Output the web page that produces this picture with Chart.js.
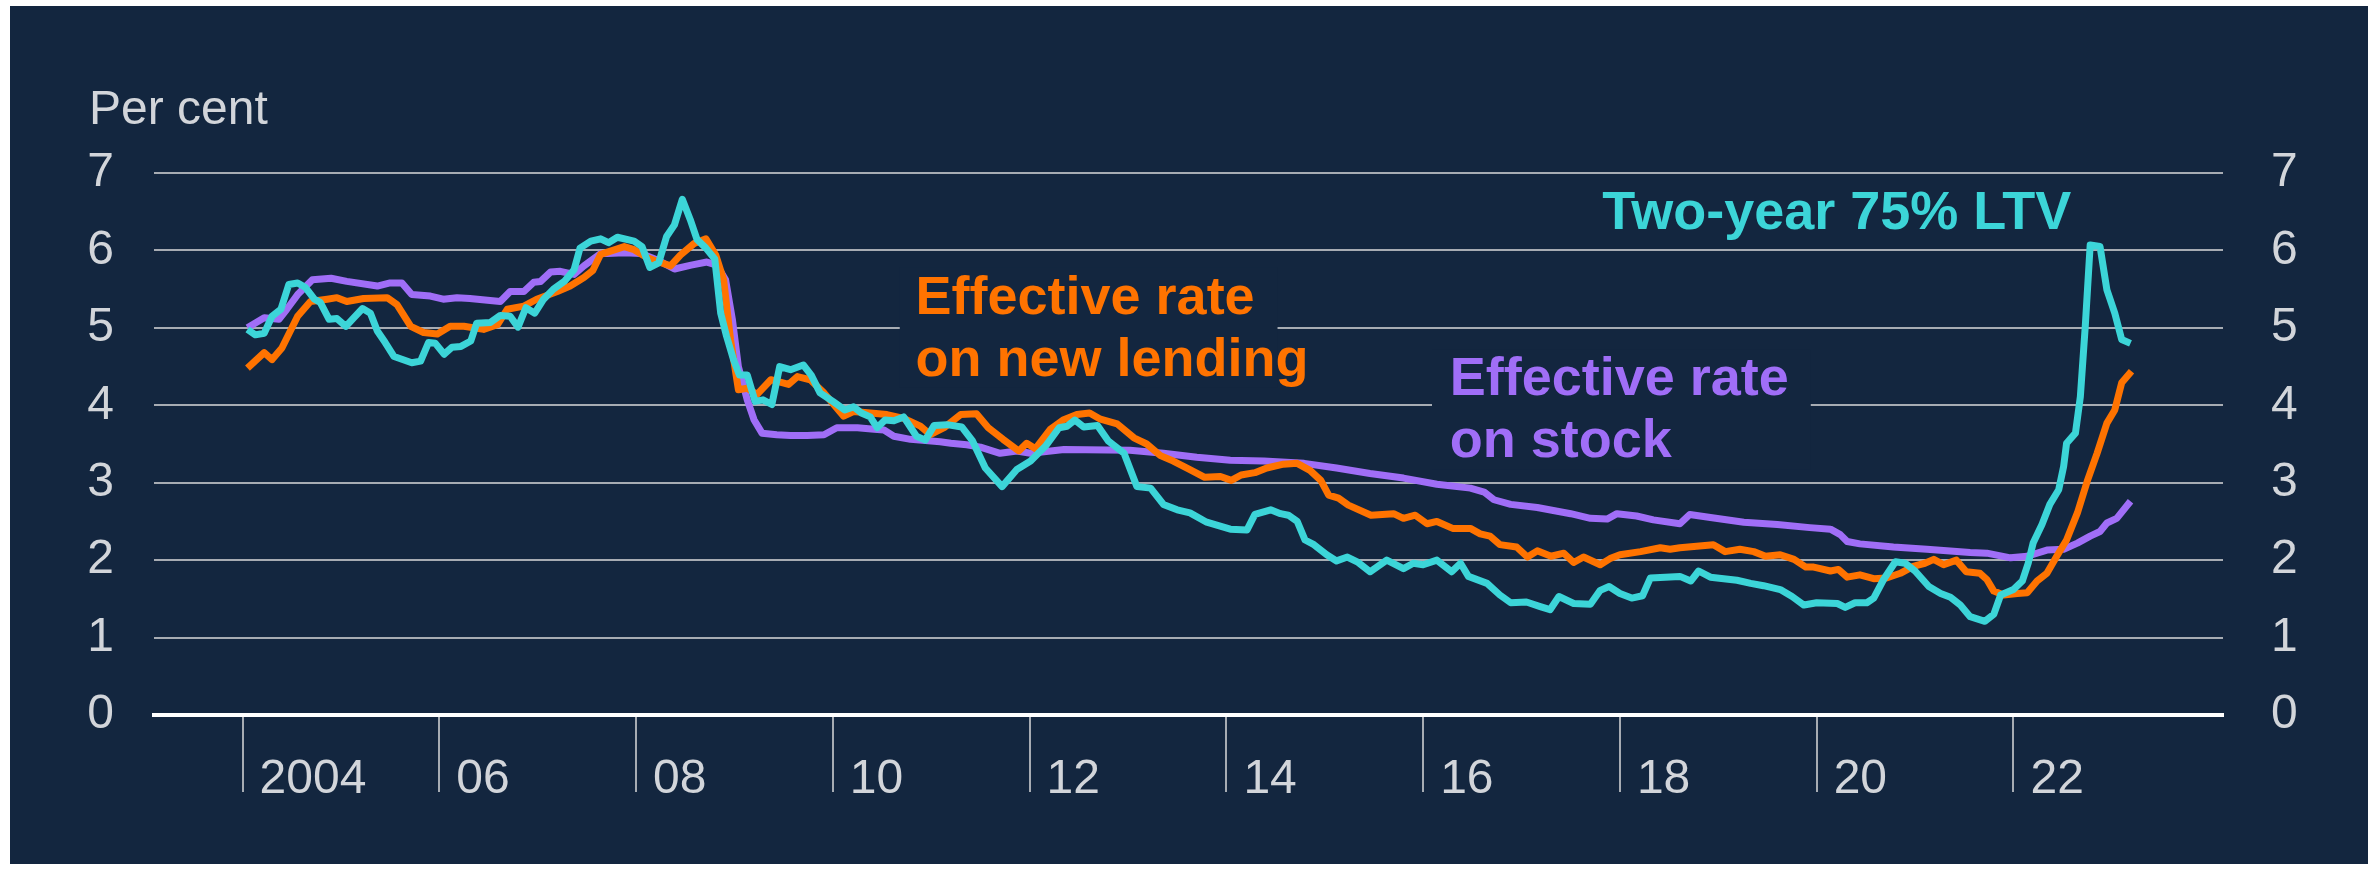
<!DOCTYPE html>
<html>
<head>
<meta charset="utf-8">
<script src="https://cdn.jsdelivr.net/npm/chart.js@4.4.0/dist/chart.umd.min.js"></script>
<style>
  html, body { margin: 0; padding: 0; background: #ffffff; }
  #wrap { width: 2377px; height: 872px; position: relative; }
</style>
</head>
<body>
<div id="wrap"><canvas id="chart"></canvas></div>
<script>
// Monthly-ish readings, x in decimal years
const newLendingDates = [
  2004.05, 2004.22, 2004.30, 2004.40, 2004.56, 2004.69, 2004.86, 2004.96, 2005.06, 2005.23,
  2005.47, 2005.57, 2005.71, 2005.84, 2005.98, 2006.11, 2006.25, 2006.45, 2006.59, 2006.69,
  2006.86, 2006.99, 2007.20, 2007.33, 2007.47, 2007.56, 2007.64, 2007.88, 2007.98, 2008.11,
  2008.21, 2008.35, 2008.45, 2008.59, 2008.71, 2008.81, 2008.89, 2008.96, 2009.04, 2009.13,
  2009.23, 2009.37, 2009.55, 2009.64, 2009.77, 2009.91, 2010.11, 2010.21, 2010.38, 2010.55,
  2010.72, 2010.89, 2010.99, 2011.13, 2011.30, 2011.46, 2011.58, 2011.73, 2011.89, 2011.97,
  2012.06, 2012.21, 2012.34, 2012.48, 2012.61, 2012.72, 2012.89, 2013.06, 2013.19, 2013.33,
  2013.46, 2013.60, 2013.78, 2013.94, 2014.05, 2014.15, 2014.29, 2014.41, 2014.58, 2014.72,
  2014.85, 2014.96, 2015.04, 2015.14, 2015.24, 2015.47, 2015.70, 2015.80, 2015.92, 2016.04,
  2016.14, 2016.30, 2016.48, 2016.58, 2016.68, 2016.78, 2016.95, 2017.06, 2017.16, 2017.30,
  2017.43, 2017.53, 2017.63, 2017.80, 2017.90, 2018.00, 2018.21, 2018.41, 2018.51, 2018.61,
  2018.78, 2018.95, 2019.07, 2019.22, 2019.36, 2019.48, 2019.63, 2019.77, 2019.89, 2019.97,
  2020.14, 2020.22, 2020.31, 2020.44, 2020.58, 2020.71, 2020.85, 2020.98, 2021.10, 2021.19,
  2021.29, 2021.42, 2021.52, 2021.66, 2021.73, 2021.80, 2021.90, 2022.04, 2022.14, 2022.24,
  2022.34, 2022.44, 2022.54, 2022.65, 2022.75, 2022.85, 2022.95, 2023.03, 2023.10, 2023.20
];
const newLendingRates = [
  4.48, 4.68, 4.59, 4.74, 5.15, 5.34, 5.37, 5.39, 5.34, 5.38,
  5.39, 5.30, 5.02, 4.94, 4.92, 5.02, 5.02, 4.98, 5.04, 5.24,
  5.28, 5.37, 5.47, 5.54, 5.65, 5.74, 5.95, 6.05, 6.01, 5.91,
  5.86, 5.80, 5.94, 6.09, 6.15, 5.94, 5.62, 4.85, 4.20, 4.22,
  4.14, 4.33, 4.27, 4.37, 4.33, 4.16, 3.86, 3.92, 3.90, 3.88,
  3.83, 3.73, 3.62, 3.71, 3.88, 3.89, 3.71, 3.56, 3.41, 3.51,
  3.44, 3.69, 3.81, 3.88, 3.90, 3.82, 3.76, 3.58, 3.50, 3.35,
  3.28, 3.19, 3.07, 3.08, 3.03, 3.10, 3.13, 3.19, 3.24, 3.25,
  3.16, 3.03, 2.84, 2.80, 2.71, 2.58, 2.60, 2.54, 2.58, 2.47,
  2.50, 2.41, 2.41, 2.34, 2.31, 2.20, 2.17, 2.04, 2.12, 2.05,
  2.09, 1.97, 2.04, 1.94, 2.02, 2.07, 2.11, 2.16, 2.14, 2.16,
  2.18, 2.20, 2.11, 2.14, 2.11, 2.05, 2.07, 2.01, 1.91, 1.91,
  1.86, 1.88, 1.78, 1.81, 1.76, 1.77, 1.83, 1.92, 1.96, 2.01,
  1.94, 2.00, 1.85, 1.83, 1.75, 1.60, 1.55, 1.57, 1.58, 1.73,
  1.83, 2.05, 2.26, 2.61, 3.02, 3.38, 3.77, 3.94, 4.29, 4.44
];

const stockDates = [
  2004.05, 2004.22, 2004.37, 2004.45, 2004.56, 2004.71, 2004.90, 2005.06, 2005.37, 2005.50,
  2005.62, 2005.72, 2005.91, 2006.04, 2006.18, 2006.31, 2006.62, 2006.72, 2006.86, 2006.96,
  2007.03, 2007.13, 2007.23, 2007.37, 2007.47, 2007.64, 2007.71, 2007.88, 2008.05, 2008.21,
  2008.39, 2008.56, 2008.72, 2008.82, 2008.91, 2008.98, 2009.04, 2009.13, 2009.20, 2009.28,
  2009.43, 2009.57, 2009.74, 2009.91, 2010.04, 2010.25, 2010.42, 2010.52, 2010.62, 2010.79,
  2011.09, 2011.20, 2011.36, 2011.50, 2011.70, 2011.87, 2012.01, 2012.35, 2013.02, 2013.36,
  2013.70, 2014.04, 2014.38, 2014.79, 2015.12, 2015.46, 2015.80, 2016.14, 2016.48, 2016.62,
  2016.72, 2016.89, 2017.16, 2017.50, 2017.70, 2017.87, 2017.97, 2018.17, 2018.34, 2018.61,
  2018.71, 2018.92, 2019.26, 2019.60, 2019.93, 2020.14, 2020.24, 2020.31, 2020.44, 2020.78,
  2021.12, 2021.56, 2021.73, 2021.97, 2022.14, 2022.34, 2022.51, 2022.65, 2022.78, 2022.88,
  2022.95, 2023.05, 2023.19
];
const stockRates = [
  5.00, 5.13, 5.11, 5.24, 5.43, 5.62, 5.64, 5.60, 5.54, 5.58,
  5.58, 5.43, 5.41, 5.37, 5.39, 5.38, 5.34, 5.47, 5.47, 5.59,
  5.60, 5.72, 5.73, 5.69, 5.80, 5.96, 5.96, 5.97, 5.96, 5.88,
  5.76, 5.81, 5.85, 5.81, 5.62, 5.10, 4.50, 4.07, 3.81, 3.64,
  3.62, 3.61, 3.61, 3.62, 3.71, 3.71, 3.69, 3.68, 3.60, 3.56,
  3.53, 3.51, 3.49, 3.46, 3.38, 3.41, 3.38, 3.43, 3.42, 3.38,
  3.33, 3.29, 3.28, 3.25, 3.19, 3.12, 3.06, 2.98, 2.93, 2.88,
  2.78, 2.72, 2.68, 2.60, 2.54, 2.53, 2.60, 2.57, 2.52, 2.47,
  2.59, 2.55, 2.49, 2.46, 2.42, 2.40, 2.33, 2.24, 2.21, 2.17,
  2.14, 2.10, 2.09, 2.03, 2.05, 2.13, 2.14, 2.22, 2.31, 2.37,
  2.48, 2.54, 2.76
];

const ltvDates = [
  2004.05, 2004.13, 2004.22, 2004.30, 2004.39, 2004.47, 2004.56, 2004.64, 2004.73, 2004.79,
  2004.88, 2004.96, 2005.05, 2005.13, 2005.22, 2005.30, 2005.37, 2005.45, 2005.54, 2005.72,
  2005.81, 2005.89, 2005.96, 2006.05, 2006.13, 2006.22, 2006.32, 2006.38, 2006.52, 2006.62,
  2006.72, 2006.80, 2006.88, 2006.97, 2007.06, 2007.16, 2007.27, 2007.37, 2007.43, 2007.54,
  2007.64, 2007.72, 2007.81, 2007.98, 2008.06, 2008.14, 2008.23, 2008.31, 2008.39, 2008.47,
  2008.55, 2008.62, 2008.71, 2008.80, 2008.86, 2008.92, 2008.99, 2009.05, 2009.13, 2009.21,
  2009.29, 2009.38, 2009.46, 2009.57, 2009.70, 2009.78, 2009.87, 2010.00, 2010.12, 2010.21,
  2010.29, 2010.38, 2010.45, 2010.53, 2010.62, 2010.72, 2010.85, 2010.94, 2011.03, 2011.16,
  2011.31, 2011.42, 2011.55, 2011.72, 2011.87, 2012.01, 2012.16, 2012.30, 2012.38, 2012.46,
  2012.55, 2012.69, 2012.80, 2012.96, 2013.09, 2013.23, 2013.36, 2013.50, 2013.63, 2013.80,
  2014.04, 2014.21, 2014.29, 2014.45, 2014.55, 2014.63, 2014.72, 2014.80, 2014.89, 2015.02,
  2015.12, 2015.23, 2015.34, 2015.46, 2015.63, 2015.80, 2015.90, 2016.00, 2016.14, 2016.29,
  2016.38, 2016.46, 2016.65, 2016.78, 2016.89, 2017.05, 2017.19, 2017.29, 2017.38, 2017.53,
  2017.70, 2017.80, 2017.89, 2018.00, 2018.12, 2018.23, 2018.31, 2018.61, 2018.72, 2018.80,
  2018.92, 2019.19, 2019.33, 2019.46, 2019.63, 2019.75, 2019.87, 2020.00, 2020.21, 2020.29,
  2020.39, 2020.51, 2020.58, 2020.68, 2020.80, 2020.90, 2021.00, 2021.14, 2021.26, 2021.36,
  2021.46, 2021.56, 2021.71, 2021.80, 2021.87, 2022.00, 2022.09, 2022.15, 2022.20, 2022.29,
  2022.37, 2022.46, 2022.51, 2022.54, 2022.63, 2022.68, 2022.73, 2022.78, 2022.88, 2022.95,
  2023.03, 2023.10, 2023.19
];
const ltvRates = [
  4.98, 4.91, 4.93, 5.15, 5.24, 5.56, 5.58, 5.52, 5.37, 5.33,
  5.11, 5.12, 5.02, 5.13, 5.25, 5.19, 4.96, 4.81, 4.63, 4.55,
  4.57, 4.81, 4.80, 4.66, 4.75, 4.76, 4.83, 5.06, 5.07, 5.16,
  5.15, 5.01, 5.26, 5.19, 5.37, 5.50, 5.60, 5.75, 6.03, 6.12,
  6.15, 6.10, 6.17, 6.12, 6.05, 5.78, 5.84, 6.18, 6.33, 6.66,
  6.40, 6.14, 6.03, 5.89, 5.19, 4.89, 4.59, 4.39, 4.39, 4.05,
  4.07, 4.01, 4.50, 4.46, 4.52, 4.39, 4.16, 4.05, 3.94, 3.98,
  3.90, 3.85, 3.71, 3.81, 3.80, 3.85, 3.60, 3.55, 3.74, 3.75,
  3.72, 3.54, 3.19, 2.95, 3.17, 3.28, 3.47, 3.71, 3.73, 3.81,
  3.72, 3.74, 3.54, 3.38, 2.95, 2.93, 2.72, 2.65, 2.61, 2.49,
  2.40, 2.39, 2.59, 2.65, 2.60, 2.58, 2.50, 2.26, 2.20, 2.07,
  1.99, 2.04, 1.97, 1.85, 2.00, 1.89, 1.96, 1.94, 2.00, 1.85,
  1.96, 1.79, 1.70, 1.55, 1.45, 1.46, 1.40, 1.36, 1.53, 1.44,
  1.43, 1.61, 1.66, 1.57, 1.51, 1.54, 1.77, 1.79, 1.73, 1.86,
  1.78, 1.74, 1.70, 1.67, 1.62, 1.53, 1.42, 1.45, 1.44, 1.39,
  1.45, 1.45, 1.51, 1.75, 1.98, 1.96, 1.86, 1.66, 1.57, 1.52,
  1.42, 1.27, 1.21, 1.30, 1.55, 1.62, 1.73, 1.96, 2.22, 2.46,
  2.72, 2.91, 3.21, 3.51, 3.64, 4.11, 5.02, 6.07, 6.05, 5.49,
  5.19, 4.85, 4.80
];

const xTickYears = [2004, 2006, 2008, 2010, 2012, 2014, 2016, 2018, 2020, 2022];
const xTickLabels = ['2004', '06', '08', '10', '12', '14', '16', '18', '20', '22'];
const X_MIN = 2003.1;
const X_MAX = 2024.13;

const NAVY = '#13263f';
const ORANGE = '#ff7300';
const PURPLE = '#a06ef7';
const CYAN = '#3cd5d8';
const GRID = '#a7acb3';
const TEXT = '#d2d5da';
const FONT = '"Liberation Sans", Arial, sans-serif';

function toPoints(xs, ys) {
  return xs.map((x, i) => ({ x: x, y: ys[i] }));
}

// label text for each series, anchored in data coordinates
const seriesLabels = [
  { lines: ['Effective rate', 'on new lending'], color: ORANGE, x: 2010.84, y: 5.18, box: [2010.68, 2014.52] },
  { lines: ['Effective rate', 'on stock'], color: PURPLE, x: 2016.27, y: 4.13, box: [2016.09, 2019.94] },
  { lines: ['Two-year 75% LTV'], color: CYAN, x: 2017.82, y: 6.28 }
];

const backdrop = {
  id: 'backdrop',
  beforeDraw(chart) {
    const c = chart.ctx;
    c.save();
    c.fillStyle = '#ffffff';
    c.fillRect(0, 0, chart.width, chart.height);
    c.fillStyle = NAVY;
    c.fillRect(10, 6, chart.width - 19, chart.height - 14);
    c.restore();
  }
};

const labelBoxes = {
  id: 'labelBoxes',
  // hide gridlines behind the series labels, before the lines are drawn
  beforeDatasetsDraw(chart) {
    const { ctx, scales } = chart;
    ctx.save();
    ctx.fillStyle = NAVY;
    seriesLabels.forEach(l => {
      if (!l.box) return;
      const x0 = scales.x.getPixelForValue(l.box[0]);
      const x1 = scales.x.getPixelForValue(l.box[1]);
      const base = scales.y.getPixelForValue(l.y);
      ctx.fillRect(x0, base - 46, x1 - x0, 120);
    });
    ctx.restore();
  },
  afterDraw(chart) {
    const { ctx, scales } = chart;
    ctx.save();
    ctx.textBaseline = 'alphabetic';
    ctx.textAlign = 'left';
    ctx.font = 'bold 54px ' + FONT;
    seriesLabels.forEach(l => {
      const x = scales.x.getPixelForValue(l.x);
      const base = scales.y.getPixelForValue(l.y);
      ctx.fillStyle = l.color;
      l.lines.forEach((t, i) => ctx.fillText(t, x, base + i * 62));
    });

    // year labels sit to the right of each tick mark
    ctx.font = '48px ' + FONT;
    ctx.fillStyle = TEXT;
    xTickYears.forEach((yr, i) => {
      const x = scales.x.getPixelForValue(yr);
      ctx.fillText(xTickLabels[i], x + 17, scales.x.top + 78);
    });

    ctx.fillText('Per cent', 89, 124);
    ctx.restore();
  }
};

const lineStyle = {
  borderWidth: 7,
  pointRadius: 0,
  tension: 0,
  fill: false,
  borderJoinStyle: 'round',
  borderCapStyle: 'butt'
};

const yTicks = {
  stepSize: 1,
  padding: 40,
  color: TEXT,
  font: { family: FONT, size: 48 }
};

new Chart(document.getElementById('chart'), {
  type: 'line',
  data: {
    datasets: [
      Object.assign({ label: 'Two-year 75% LTV', data: toPoints(ltvDates, ltvRates), borderColor: CYAN }, lineStyle),
      Object.assign({ label: 'Effective rate on new lending', data: toPoints(newLendingDates, newLendingRates), borderColor: ORANGE }, lineStyle),
      Object.assign({ label: 'Effective rate on stock', data: toPoints(stockDates, stockRates), borderColor: PURPLE }, lineStyle)
    ]
  },
  options: {
    responsive: true,
    maintainAspectRatio: false,
    animation: false,
    layout: { padding: { top: 173, bottom: 80, left: 0, right: 0 } },
    plugins: {
      legend: { display: false },
      tooltip: { enabled: false }
    },
    scales: {
      x: {
        type: 'linear',
        min: X_MIN,
        max: X_MAX,
        afterBuildTicks: scale => { scale.ticks = xTickYears.map(v => ({ value: v })); },
        ticks: { display: false },
        grid: { drawOnChartArea: false, drawTicks: true, tickLength: 77, color: GRID, lineWidth: 2 },
        border: { display: true, color: '#ffffff', width: 4 }
      },
      y: {
        position: 'left',
        min: 0,
        max: 7,
        ticks: yTicks,
        grid: { color: GRID, lineWidth: 2, drawTicks: false },
        border: { display: false },
        afterFit: scale => { scale.width = 154; }
      },
      y2: {
        position: 'right',
        min: 0,
        max: 7,
        ticks: yTicks,
        grid: { display: false },
        border: { display: false },
        afterFit: scale => { scale.width = 154; }
      }
    }
  },
  plugins: [backdrop, labelBoxes]
});
</script>
</body>
</html>
